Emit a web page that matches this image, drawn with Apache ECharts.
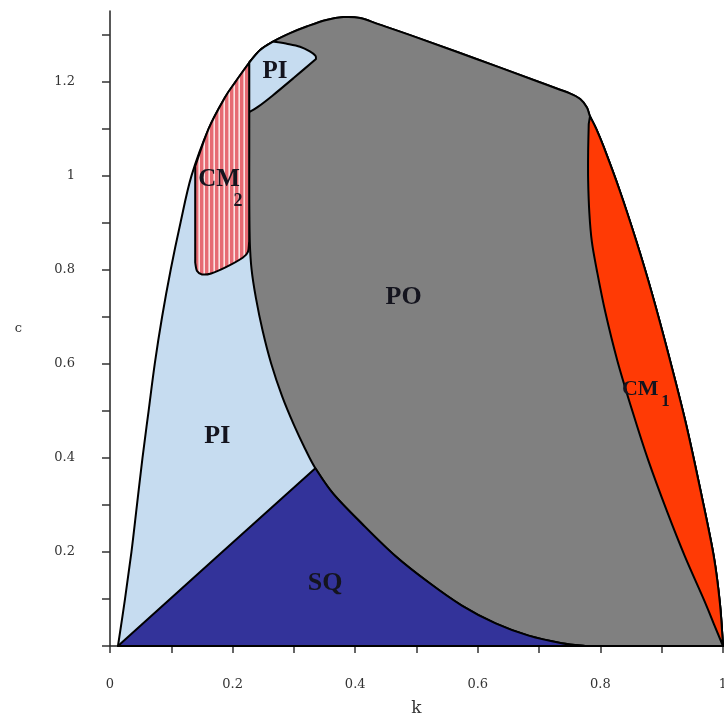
<!DOCTYPE html>
<html><head><meta charset="utf-8">
<script src="https://cdn.jsdelivr.net/npm/echarts@6/dist/echarts.min.js"></script>
<style>html,body{margin:0;padding:0;background:#fff}#c{width:724px;height:721px}</style>
</head><body><div id="c"></div>
<script>
// ---- tick labels ----
const xLabelVals = [0, 0.2, 0.4, 0.6, 0.8, 1];
const yLabelVals = [0.2, 0.4, 0.6, 0.8, 1, 1.2];
const xTickVals = [0, 0.1, 0.2, 0.3, 0.4, 0.5, 0.6, 0.7, 0.8, 0.9, 1];
const yTickVals = [0, 0.1, 0.2, 0.3, 0.4, 0.5, 0.6, 0.7, 0.8, 0.9, 1, 1.1, 1.2, 1.3];

// ---- boundary curves [k, c] ----
const leftOuter = [[0.013,0],[0.0245,0.1],[0.035,0.2],[0.044,0.3],[0.053,0.4],[0.063,0.5],[0.073,0.6],[0.085,0.7],[0.099,0.8],[0.115,0.9],[0.133,1.0],[0.161,1.1],[0.187,1.165],[0.205,1.2],[0.227,1.24]];
const topOutline = [[0.227,1.24],[0.245,1.267],[0.266,1.285],[0.294,1.303],[0.321,1.317],[0.353,1.331],[0.381,1.337],[0.408,1.335],[0.44,1.321],[0.5,1.294],[0.6,1.247],[0.7,1.199],[0.75,1.175],[0.767,1.163],[0.778,1.145],[0.783,1.126]];
const rightOuter = [[0.783,1.126],[0.793,1.1],[0.805,1.062],[0.831,0.97],[0.858,0.863],[0.884,0.75],[0.912,0.615],[0.94,0.47],[0.965,0.32],[0.985,0.19],[0.995,0.09],[1.0,0]];
const cm1Inner = [[1.0,0],[0.985,0.047],[0.97,0.095],[0.938,0.19],[0.909,0.285],[0.878,0.395],[0.852,0.5],[0.828,0.605],[0.808,0.71],[0.794,0.8],[0.786,0.86],[0.782,0.92],[0.78,0.99],[0.78,1.05],[0.781,1.11]];
const sqCurve = [[0.335,0.378],[0.364,0.324],[0.411,0.26],[0.465,0.192],[0.52,0.135],[0.574,0.086],[0.629,0.048],[0.683,0.022],[0.737,0.006],[0.775,0]];
const sqLeft = [[0.013,0],[0.335,0.378]];
const piPoBoundary = [[0.335,0.378],[0.318,0.42],[0.3,0.47],[0.281,0.53],[0.263,0.6],[0.249,0.67],[0.238,0.74],[0.231,0.8],[0.228,0.86],[0.227,0.95],[0.227,1.05],[0.227,1.14],[0.227,1.24]];
const piLobeEdge = [[0.266,1.285],[0.29,1.28],[0.31,1.274],[0.326,1.264],[0.335,1.255],[0.336,1.248],[0.3,1.208],[0.265,1.17],[0.24,1.145],[0.227,1.135]];
const piLobeLeft = [[0.227,1.135],[0.227,1.24]];
const cm2Left = [[0.139,0.815],[0.139,1.02]];
const cm2Right = [[0.227,1.24],[0.227,0.86]];
const cm2Bottom = [[0.227,0.86],[0.225,0.838],[0.217,0.826],[0.19,0.806],[0.165,0.792],[0.15,0.79],[0.142,0.797],[0.139,0.815]];

// ---- region labels ----
const regionLabels = [
  {text:'PO', k:0.479, c:0.742, size:26},
  {text:'PI', k:0.175, c:0.445, size:26},
  {text:'PI', k:0.269, c:1.221, size:25},
  {text:'SQ', k:0.351, c:0.133, size:26},
  {text:'CM', k:0.178, c:0.991, size:25},
  {text:'2',  k:0.209, c:0.945, size:18},
  {text:'CM', k:0.865, c:0.546, size:22},
  {text:'1',  k:0.906, c:0.519, size:17}
];

// composed regions (lists of boundary curves)
const outerRight = topOutline.concat(rightOuter.slice(1));
const poInner = sqCurve.slice().reverse().concat(piPoBoundary.slice(1));
const envelopeCurves = [leftOuter.concat(outerRight.slice(1))];
const poCurves = [outerRight, poInner];
const sqCurves = [sqLeft, sqCurve];
const cm1Curves = [rightOuter, cm1Inner.slice(1)];
const piLobeCurves = [piLobeLeft, topOutline.slice(0, 3), piLobeEdge.slice(0, 6), piLobeEdge.slice(5)];
const cm2Curves = [cm2Left, [cm2Left[1]].concat(leftOuter.filter(p => p[1] > cm2Left[1][1])), cm2Right, cm2Bottom];

// stripe pattern for CM2
const pc = document.createElement('canvas');
pc.width = 5; pc.height = 4;
const g = pc.getContext('2d');
g.fillStyle = '#e66a72'; g.fillRect(0,0,5,4);
g.fillStyle = '#fbe2e2'; g.fillRect(3.4,0,1.6,4);

function f(p) { return p[0].toFixed(2) + ' ' + p[1].toFixed(2); }
function pathFromCurves(curves, api) {
  let d = '';
  curves.forEach(function (cv) {
    if (!cv.length) return;
    const p = cv.map(q => api.coord(q));
    d += (d === '' ? 'M' : 'L') + f(p[0]);
    for (let i = 0; i < p.length - 1; i++) {
      const p0 = p[i - 1] || p[i], p1 = p[i], p2 = p[i + 1], p3 = p[i + 2] || p[i + 1];
      const c1 = [p1[0] + (p2[0] - p0[0]) / 6, p1[1] + (p2[1] - p0[1]) / 6];
      const c2 = [p2[0] - (p3[0] - p1[0]) / 6, p2[1] - (p3[1] - p1[1]) / 6];
      d += 'C' + f(c1) + ' ' + f(c2) + ' ' + f(p2);
    }
  });
  return d + 'Z';
}

function regionSeries(curves, fill) {
  const pts = [].concat.apply([], curves);
  return {
    type: 'custom', coordinateSystem: 'cartesian2d', silent: true,
    data: pts, encode: {x: 0, y: 1},
    renderItem: function (params, api) {
      if (params.dataIndex !== 0) return null;
      return {
        type: 'path',
        shape: {pathData: pathFromCurves(curves, api)},
        style: {fill: fill, stroke: '#000', lineWidth: 2, lineJoin: 'round'}
      };
    }
  };
}

const labelSeries = {
  type: 'custom', coordinateSystem: 'cartesian2d', silent: true, z: 10,
  data: regionLabels.map(l => [l.k, l.c]), encode: {x: 0, y: 1},
  renderItem: function (params, api) {
    const l = regionLabels[params.dataIndex];
    const p = api.coord([l.k, l.c]);
    return {
      type: 'text', x: p[0], y: p[1],
      style: {text: l.text, fill: '#14141e', font: 'bold ' + l.size + 'px "Liberation Serif", serif', align: 'center', verticalAlign: 'middle'}
    };
  }
};

const axisFont = {fontFamily: '"DejaVu Serif", serif', color: '#333', fontSize: 13};

const chart = echarts.init(document.getElementById('c'));
chart.setOption({
  animation: false,
  grid: {left: 110, right: 1, top: 11, bottom: 75, containLabel: false, outerBoundsMode: 'none'},
  xAxis: {
    type: 'value', min: 0, max: 1,
    name: 'k', nameLocation: 'middle', nameGap: 54,
    nameTextStyle: {fontFamily: '"DejaVu Serif", serif', fontSize: 17, color: '#333'},
    axisLine: {lineStyle: {color: '#222', width: 1.5}},
    axisTick: {show: true, length: 7, customValues: xTickVals, lineStyle: {color: '#333', width: 1.5}},
    axisLabel: Object.assign({margin: 32, customValues: xLabelVals, formatter: v => String(v)}, axisFont),
    splitLine: {show: false}
  },
  yAxis: {
    type: 'value', min: 0, max: 1.35,
    name: 'c', nameLocation: 'middle', nameRotate: 0, nameGap: 88,
    nameTextStyle: {fontFamily: '"DejaVu Serif", serif', fontSize: 13, color: '#333', padding: [0, 0, 36, 0]},
    axisLine: {lineStyle: {color: '#222', width: 1.5}},
    axisTick: {show: true, length: 8, customValues: yTickVals, lineStyle: {color: '#333', width: 1.5}},
    axisLabel: Object.assign({margin: 35, customValues: yLabelVals, formatter: v => String(v)}, axisFont),
    splitLine: {show: false}
  },
  series: [
    regionSeries(envelopeCurves, '#c6dcf0'),
    regionSeries(poCurves, '#808080'),
    regionSeries(sqCurves, '#33339a'),
    regionSeries(cm1Curves, '#ff3a05'),
    regionSeries(piLobeCurves, '#c6dcf0'),
    regionSeries(cm2Curves, {image: pc, repeat: 'repeat'}),
    labelSeries
  ]
});
</script>
</body></html>
